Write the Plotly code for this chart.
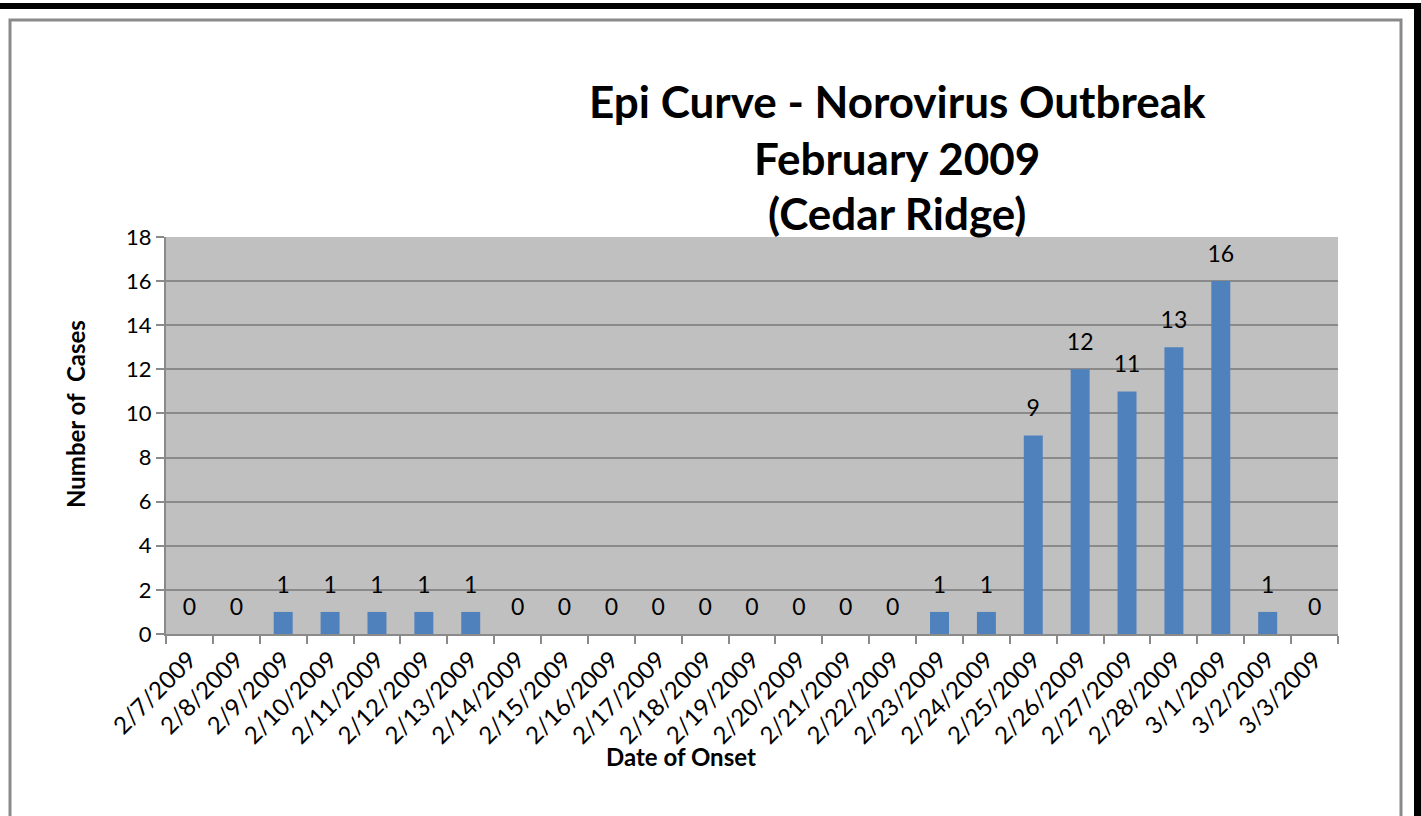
import plotly.graph_objects as go

# Epi curve data
dates = ["2/7/2009", "2/8/2009", "2/9/2009", "2/10/2009", "2/11/2009", "2/12/2009",
         "2/13/2009", "2/14/2009", "2/15/2009", "2/16/2009", "2/17/2009", "2/18/2009",
         "2/19/2009", "2/20/2009", "2/21/2009", "2/22/2009", "2/23/2009", "2/24/2009",
         "2/25/2009", "2/26/2009", "2/27/2009", "2/28/2009", "3/1/2009", "3/2/2009",
         "3/3/2009"]
cases = [0, 0, 1, 1, 1, 1, 1, 0, 0, 0, 0, 0, 0, 0, 0, 0, 1, 1, 9, 12, 11, 13, 16, 1, 0]
y_ticks = [0, 2, 4, 6, 8, 10, 12, 14, 16, 18]

title_lines = ["Epi Curve - Norovirus Outbreak", "February 2009", "(Cedar Ridge)"]

FONT = "Lato"
W, H = 1421, 816
L, R, T, B = 166, 83, 237, 182
PW, PH = W - L - R, H - T - B


# pixel -> paper helpers for the decorations
def px(x):
    return (x - L) / PW


def py(y):
    return (H - B - y) / PH


fig = go.Figure()

fig.add_trace(go.Bar(
    x=dates, y=cases,
    marker=dict(color="#4F81BD", line=dict(width=0)),
    hoverinfo="x+y",
))

# data labels above each bar
fig.add_trace(go.Scatter(
    x=dates, y=cases,
    mode="markers+text",
    text=[str(v) for v in cases],
    textposition="top center",
    textfont=dict(family=FONT, size=23, color="black"),
    marker=dict(size=20, color="rgba(0,0,0,0)"),
    hoverinfo="skip",
    cliponaxis=False,
))

annotations = []
for line, yc in zip(title_lines, [101, 158, 213]):
    annotations.append(dict(
        text="<b>" + line + "</b>", x=px(897), y=py(yc), xref="paper", yref="paper",
        xanchor="center", yanchor="middle", showarrow=False,
        font=dict(family=FONT, size=44, color="black"),
    ))

annotations.append(dict(
    text="<b>Date of Onset</b>", x=px(681), y=py(756), xref="paper", yref="paper",
    xanchor="center", yanchor="middle", showarrow=False,
    font=dict(family=FONT, size=24, color="black"),
))
annotations.append(dict(
    text="<b>Number of\u00a0 Cases</b>", x=px(75), y=py(414), xref="paper", yref="paper",
    xanchor="center", yanchor="middle", showarrow=False, textangle=-90,
    font=dict(family=FONT, size=24, color="black"),
))

shapes = [
    # outer grey frame
    dict(type="rect", xref="paper", yref="paper", x0=px(10), x1=px(1401),
         y0=py(20), y1=py(830), line=dict(color="#8a8a8a", width=3)),
    # black borders top and right
    dict(type="rect", xref="paper", yref="paper", x0=px(0), x1=px(1421),
         y0=py(3), y1=py(9), fillcolor="black", line=dict(width=0)),
    dict(type="rect", xref="paper", yref="paper", x0=px(1414), x1=px(1422),
         y0=py(3), y1=py(820), fillcolor="black", line=dict(width=0)),
]

fig.update_layout(
    width=W, height=H,
    margin=dict(l=L, r=R, t=T, b=B),
    paper_bgcolor="white",
    plot_bgcolor="#C0C0C0",
    showlegend=False,
    bargap=0.595,
    font=dict(family=FONT, size=22, color="black"),
    annotations=annotations,
    shapes=shapes,
)

fig.update_xaxes(
    type="category", range=[-0.5, len(dates) - 0.5],
    tickangle=-45, tickson="boundaries",
    ticks="outside", ticklen=8, tickcolor="#8a8a8a", tickwidth=2,
    showline=True, linecolor="#8a8a8a", linewidth=2,
    showgrid=False, tickfont=dict(family=FONT, size=24),
)
fig.update_yaxes(
    range=[0, 18], tickvals=y_ticks,
    ticks="outside", ticklen=8, tickcolor="#8a8a8a", tickwidth=2,
    showline=True, linecolor="#8a8a8a", linewidth=2,
    showgrid=True, gridcolor="#8a8a8a", gridwidth=2,
    zeroline=False, tickfont=dict(family=FONT, size=22),
)

# drop the default page margin so the figure sits at the window corner
fig.write_html("out.html", config={"displayModeBar": False},
               post_script="document.body.style.margin='0';")
